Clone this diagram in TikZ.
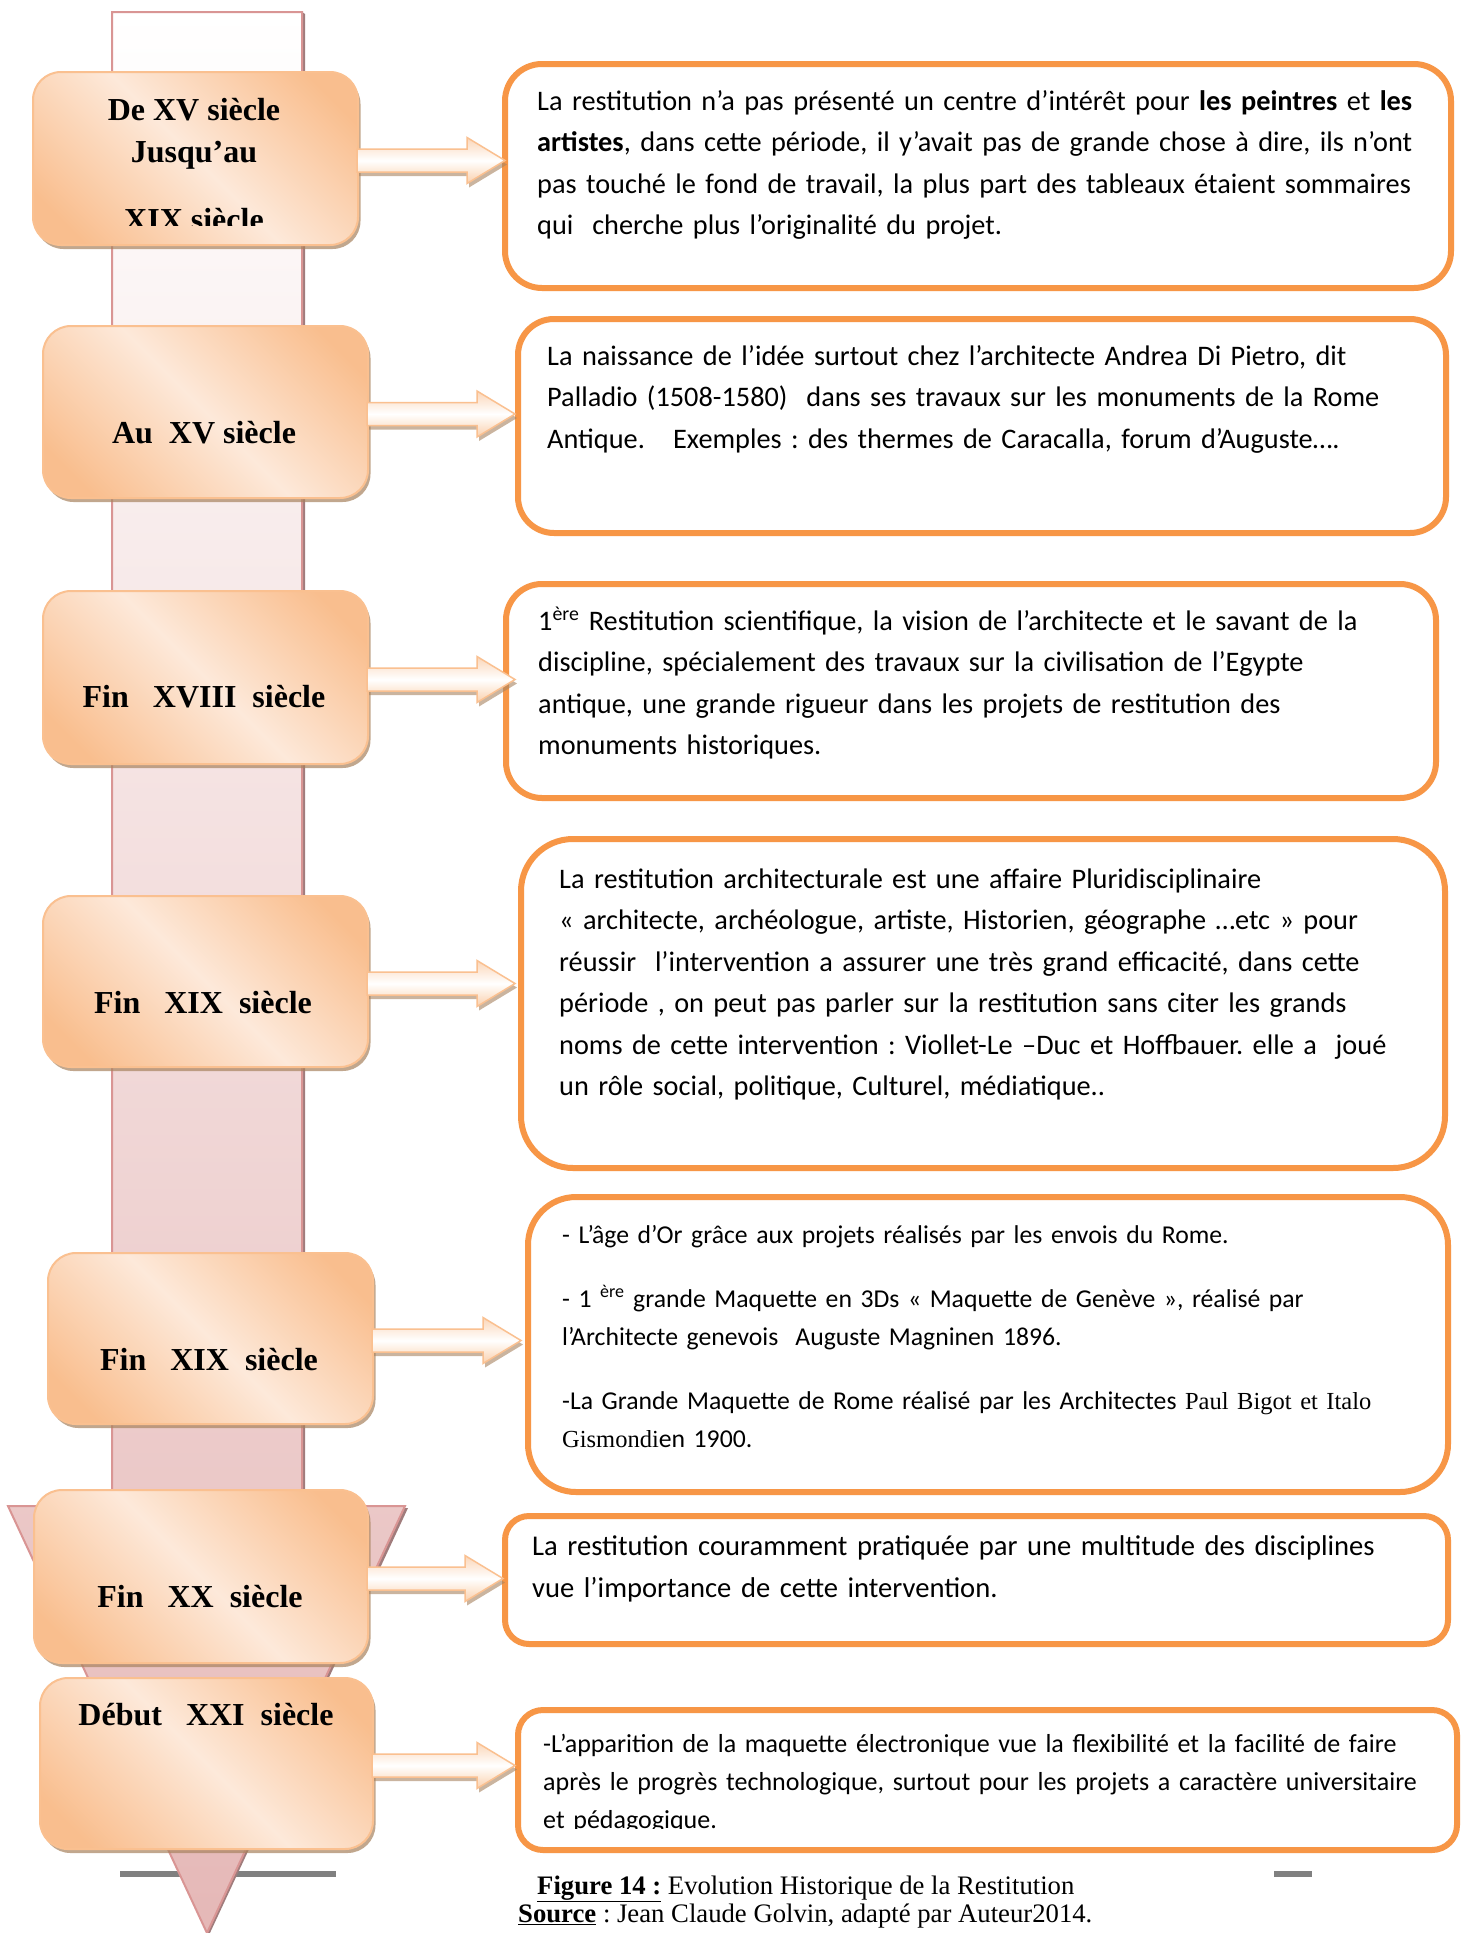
\documentclass[tikz,border=0pt]{standalone}
\usepackage{fontspec}
\setmainfont{Liberation Serif}
\newfontfamily\calibri{Carlito}
\usetikzlibrary{calc,shadows}

\definecolor{boxorange}{HTML}{F9BE8E}
\definecolor{boxlight}{HTML}{FDE9DA}
\definecolor{boxline}{HTML}{FAC090}
\definecolor{boxshadow}{HTML}{A8835F}
\definecolor{noteline}{HTML}{F79646}
\definecolor{axisline}{HTML}{D99594}
\definecolor{axisfill}{HTML}{E5B8B7}
\definecolor{axisshadow}{HTML}{A07C7C}
\definecolor{arrowtop}{HTML}{FBD6B8}
\definecolor{arrowbot}{HTML}{FAD0AC}
\definecolor{barcolor}{HTML}{808080}

\pgfdeclarehorizontalshading{periodshade}{100bp}{color(0bp)=(boxorange); color(22bp)=(boxorange); color(50bp)=(boxlight); color(78bp)=(boxorange); color(100bp)=(boxorange)}

\tikzset{
  period/.style={anchor=north west, inner sep=0pt, rounded corners=28pt,
    draw=boxline, line width=2pt, shade, shading=periodshade, shading angle=45,
    drop shadow={shadow xshift=2.5pt, shadow yshift=-4pt, fill=boxshadow, opacity=0.7}},
  periodtext/.style={anchor=base, inner sep=0pt, font=\bfseries\fontsize{32}{40}\selectfont},
  note/.style={anchor=north west, inner sep=0pt, draw=noteline, line width=6pt, fill=white},
  notetext/.style={anchor=base west, inner sep=0pt, align=left, text width=930pt,
    font=\calibri\frenchspacing\fontsize{28.3}{41.5}\selectfont},
  arrowbody/.style={top color=arrowtop, bottom color=arrowbot, middle color=white,
    draw=boxline, line width=1.5pt},
  caption/.style={anchor=base west, inner sep=0pt, font=\frenchspacing\fontsize{26.7}{28}\selectfont}
}

% serif names set inside the Calibri-like notes
\newcommand{\serifname}[1]{{\rmfamily\fontsize{24.5}{38}\selectfont #1}}

% block arrow from a period box (#1) to its note (#2); #3 moves the tip sideways
\newcommand{\periodarrow}[3]{%
  \coordinate (#1start) at ($(#1.east)+(-2,2)$);
  \coordinate (#1tip) at ($(#2.west |- #1.east)+(#3,2)$);
  \fill[boxshadow, opacity=.6]
    ($(#1start)+(2,-7.5)$) -- ($(#1tip)+(-36,-7.5)$) -- ($(#1tip)+(-36,-19)$) --
    ($(#1tip)+(2,4)$) -- ($(#1tip)+(-36,27)$) -- ($(#1tip)+(-36,15.5)$) --
    ($(#1start)+(2,15.5)$) -- cycle;
  \shade[arrowbody]
    ($(#1start)+(0,-11.5)$) -- ($(#1tip)+(-38,-11.5)$) -- ($(#1tip)+(-38,-23)$) --
    (#1tip) -- ($(#1tip)+(-38,23)$) -- ($(#1tip)+(-38,11.5)$) --
    ($(#1start)+(0,11.5)$) -- cycle;
}

\begin{document}
\begin{tikzpicture}[x=1pt,y=-1pt]
\useasboundingbox (0,0) rectangle (1462,1933);
\fill[white] (0,0) rectangle (1462,1933);

% grey rules at the foot of the page
\fill[barcolor] (120,1871) rectangle (336,1877);
\fill[barcolor] (1274,1871) rectangle (1312,1877);

% the time axis: a long downward arrow
\fill[axisshadow] (305,14) -- (305,1508) -- (408,1508) -- (209,1935) -- (207,1933) -- (405,1506) -- (302,1506) -- (302,12) -- cycle;
\shade[top color=white, bottom color=axisfill, draw=axisline, line width=2pt]
  (112,12) -- (302,12) -- (302,1506) -- (405,1506) -- (207,1933) -- (8,1506) -- (112,1506) -- cycle;

% period boxes
\node[period, minimum width=325pt, minimum height=173pt] (p1) at (32,71) {};
\node[period, minimum width=325pt, minimum height=172pt] (p2) at (42,325) {};
\node[period, minimum width=325pt, minimum height=173pt] (p3) at (42,590) {};
\node[period, minimum width=325pt, minimum height=171pt] (p4) at (42,895) {};
\node[period, minimum width=325pt, minimum height=171pt] (p5) at (47,1252) {};
\node[period, minimum width=334pt, minimum height=173pt] (p6) at (33,1489) {};
\node[period, minimum width=333pt, minimum height=171pt] (p7) at (39,1677) {};

\begin{scope}
  \clip (32,71) rectangle (357,225);
  \node[periodtext] (t1a) at (194,120) {De XV siècle};
  \node[periodtext] (t1b) at (194,162) {Jusqu’au};
  \node[periodtext] (t1c) at (194,230) {XIX siècle};
\end{scope}
\node[periodtext] (t2) at (204,443) {Au~~XV siècle};
\node[periodtext] (t3) at (204,707) {Fin~~~XVIII~~siècle};
\node[periodtext] (t4) at (203,1013) {Fin~~~XIX~~siècle};
\node[periodtext] (t5) at (209,1370) {Fin~~~XIX~~siècle};
\node[periodtext] (t6) at (200,1607) {Fin~~~XX~~siècle};
\node[periodtext] (t7) at (206,1725) {Début~~~XXI~~siècle};

% note boxes
\node[note, minimum width=946pt, minimum height=224pt, rounded corners=37pt] (n1) at (502,61) {};
\node[note, minimum width=928pt, minimum height=214pt, rounded corners=36pt] (n2) at (515,316) {};
\node[note, minimum width=930pt, minimum height=214pt, rounded corners=36pt] (n3) at (503,581) {};
\node[note, minimum width=924pt, minimum height=329pt, rounded corners=52pt] (n4) at (518,836) {};
\node[note, minimum width=920pt, minimum height=295pt, rounded corners=48pt] (n5) at (525,1194) {};
\node[note, minimum width=943pt, minimum height=128pt, rounded corners=24pt] (n6) at (502,1513) {};
\node[note, minimum width=939pt, minimum height=140pt, rounded corners=25pt] (n7) at (515,1707) {};

\node[notetext] (x1) at (537,110) {La restitution n’a pas présenté un centre d’intérêt pour \textbf{les peintres} et \textbf{les}\\
\textbf{artistes}, dans cette période, il y’avait pas de grande chose à dire, ils n’ont\\
pas touché le fond de travail, la plus part des tableaux étaient sommaires\\
qui~ cherche plus l’originalité du projet.};

\node[notetext] (x2) at (547,365) {La naissance de l’idée surtout chez l’architecte Andrea Di Pietro, dit\\
Palladio (1508-1580)~ dans ses travaux sur les monuments de la Rome\\
Antique.~~ Exemples : des thermes de Caracalla, forum d’Auguste….};

\node[notetext] (x3) at (538,630) {1\textsuperscript{ère} Restitution scientifique, la vision de l’architecte et le savant de la\\
discipline, spécialement des travaux sur la civilisation de l’Egypte\\
antique, une grande rigueur dans les projets de restitution des\\
monuments historiques.};

\node[notetext] (x4) at (559,888) {La restitution architecturale est une affaire Pluridisciplinaire\\
« architecte, archéologue, artiste, Historien, géographe …etc » pour\\
réussir~ l’intervention a assurer une très grand efficacité, dans cette\\
période , on peut pas parler sur la restitution sans citer les grands\\
noms de cette intervention : Viollet-Le –Duc et Hoffbauer. elle a~ joué\\
un rôle social, politique, Culturel, médiatique..};

\node[notetext, font=\calibri\frenchspacing\fontsize{25.7}{38}\selectfont] (x5) at (562,1243) {- L’âge d’Or grâce aux projets réalisés par les envois du Rome.\\[26pt]
- 1 \textsuperscript{ère} grande Maquette en 3Ds « Maquette de Genève », réalisé par\\
l’Architecte genevois~ Auguste Magninen 1896.\\[26pt]
-La Grande Maquette de Rome réalisé par les Architectes \serifname{Paul Bigot et Italo}\\
\serifname{Gismondi}en 1900.};

\node[notetext, font=\calibri\frenchspacing\fontsize{28.6}{42}\selectfont] (x6) at (532,1555) {La restitution couramment pratiquée par une multitude des disciplines\\
vue l’importance de cette intervention.};

\begin{scope}
  \clip (515,1707) rectangle (1455,1828);
  \node[notetext, font=\calibri\frenchspacing\fontsize{26}{38}\selectfont] (x7) at (543,1752) {-L’apparition de la maquette électronique vue la flexibilité et la facilité de faire\\
après le progrès technologique, surtout pour les projets a caractère universitaire\\
et pédagogique.};
\end{scope}

% arrows from each period to its note
\periodarrow{p1}{n1}{3}
\periodarrow{p2}{n2}{0}
\periodarrow{p3}{n3}{12}
\periodarrow{p4}{n4}{-3}
\periodarrow{p5}{n5}{-4}
\periodarrow{p6}{n6}{1}
\periodarrow{p7}{n7}{0}

% caption
\node[caption] (cap1) at (537,1894) {\underline{\textbf{Figure 14 :}} Evolution Historique de la Restitution};
\node[caption] (cap2) at (518,1922) {\underline{\textbf{Source}} : Jean Claude Golvin, adapté par Auteur2014.};
\end{tikzpicture}
\end{document}
